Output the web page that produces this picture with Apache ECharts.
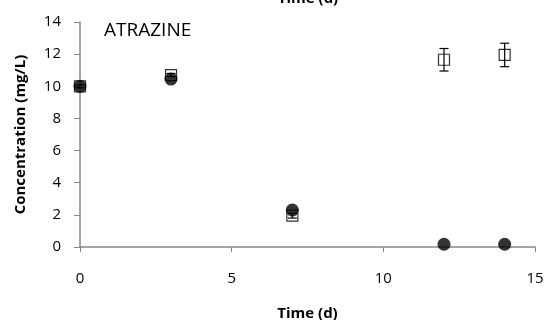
<!DOCTYPE html>
<html><head><meta charset="utf-8">
<script src="https://cdn.jsdelivr.net/npm/echarts@6/dist/echarts.min.js"></script>
<style>html,body{margin:0;padding:0;background:#fff}#c{width:547px;height:320px}</style>
</head><body><div id="c"></div>
<script>
const days = [0, 3, 7, 12, 14];
const squareVals = [10.0, 10.7, 1.95, 11.65, 11.95];
const squareErr = [0.1, 0.1, 0.15, 0.7, 0.73];
const circleVals = [10.0, 10.45, 2.3, 0.17, 0.17];
const xTicks = [0, 5, 10, 15];
const yTicks = [0, 2, 4, 6, 8, 10, 12, 14];

const FONT = 'Open Sans';
const chart = echarts.init(document.getElementById('c'));
const errData = days.map((d, i) => [d, squareVals[i] - squareErr[i], squareVals[i] + squareErr[i]]);
chart.setOption({
  animation: false,
  grid: {left: 80, right: 12, top: 22, bottom: 73, containLabel: false, outerBoundsMode: 'none'},
  graphic: [
    {type: 'text', left: 104, top: 21, style: {text: 'ATRAZINE', font: '19px "Open Sans"', fill: '#000'}},
    {type: 'text', x: 308, y: 6, style: {text: 'Time (d)', font: 'bold 15px "Open Sans"', fill: '#000', align: 'center', verticalAlign: 'bottom'}}
  ],
  xAxis: {
    type: 'value', min: 0, max: 15, interval: 5,
    name: 'Time (d)', nameLocation: 'middle', nameGap: 59,
    nameTextStyle: {fontFamily: FONT, fontWeight: 'bold', fontSize: 15, color: '#000'},
    axisLine: {show: true, lineStyle: {color: '#868686', width: 1.5}},
    axisTick: {show: true, inside: false, length: 5, lineStyle: {color: '#868686'}},
    axisLabel: {margin: 24, fontFamily: FONT, fontSize: 15, color: '#000', formatter: v => xTicks.includes(v) ? String(v) : ''},
    splitLine: {show: false}
  },
  yAxis: {
    type: 'value', min: 0, max: 14, interval: 2,
    name: 'Concentration (mg/L)', nameLocation: 'middle', nameGap: 52,
    nameTextStyle: {fontFamily: FONT, fontWeight: 'bold', fontSize: 15, color: '#000'},
    axisLine: {show: true, lineStyle: {color: '#868686', width: 1.5}},
    axisTick: {show: true, inside: false, length: 6, lineStyle: {color: '#868686'}},
    axisLabel: {margin: 19, fontFamily: FONT, fontSize: 15, color: '#000', formatter: v => yTicks.includes(v) ? String(v) : ''},
    splitLine: {show: false}
  },
  series: [
    {
      type: 'custom', z: 3,
      data: errData,
      renderItem: (params, api) => {
        const x = api.value(0);
        const lo = api.coord([x, api.value(1)]);
        const hi = api.coord([x, api.value(2)]);
        const cw = 4.5;
        const st = {stroke: '#000', lineWidth: 1.2};
        return {type: 'group', children: [
          {type: 'line', shape: {x1: lo[0], y1: lo[1], x2: hi[0], y2: hi[1]}, style: st},
          {type: 'line', shape: {x1: lo[0]-cw, y1: lo[1], x2: lo[0]+cw, y2: lo[1]}, style: st},
          {type: 'line', shape: {x1: hi[0]-cw, y1: hi[1], x2: hi[0]+cw, y2: hi[1]}, style: st}
        ]};
      }
    },
    {
      type: 'scatter', z: 4,
      symbol: 'rect', symbolSize: 11,
      itemStyle: {color: 'rgba(255,255,255,0)', borderColor: '#000', borderWidth: 1.2},
      data: days.map((d, i) => [d, squareVals[i]])
    },
    {
      type: 'scatter', z: 5,
      symbol: 'circle', symbolSize: 13,
      itemStyle: {color: '#000'},
      data: days.map((d, i) => [d, circleVals[i]])
    }
  ]
});
</script></body></html>
